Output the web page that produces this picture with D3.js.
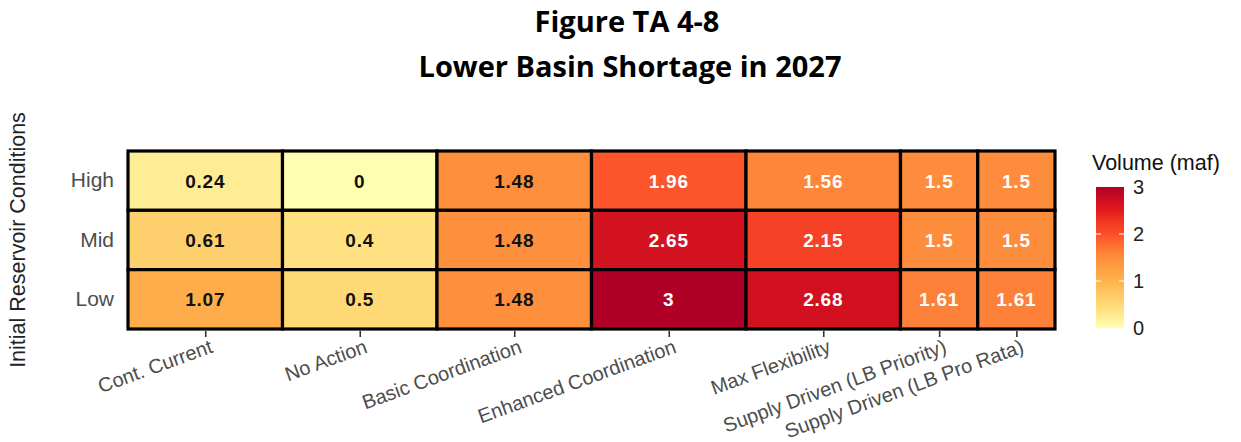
<!DOCTYPE html>
<html>
<head>
<meta charset="utf-8">
<script src="https://cdn.jsdelivr.net/npm/d3@7"></script>
<style>
  body { margin: 0; background: #fff; }
  svg { display: block; }
</style>
</head>
<body>
<div id="chart"></div>
<script>
let width = 1241
let height = 442

const scenarios = ['Cont. Current', 'No Action', 'Basic Coordination', 'Enhanced Coordination',
                   'Max Flexibility', 'Supply Driven (LB Priority)', 'Supply Driven (LB Pro Rata)']
// tile width per scenario (ggplot width aesthetic)
const tileWidths = [1, 1, 1, 1, 1, 0.5, 0.5]
const conditions = ['High', 'Mid', 'Low']
const highValues = [0.24, 0, 1.48, 1.96, 1.56, 1.5, 1.5]
const midValues = [0.61, 0.4, 1.48, 2.65, 2.15, 1.5, 1.5]
const lowValues = [1.07, 0.5, 1.48, 3, 2.68, 1.61, 1.61]
const legendTicks = [0, 1, 2, 3]

const palette = ['#ffffb2', '#fed976', '#feb24c', '#fd8d3c', '#fc4e2a', '#e31a1c', '#b10026']

let starts = []
let acc = 0
tileWidths.forEach(w => { starts.push(acc); acc += w })

let cells = []
;[highValues, midValues, lowValues].forEach((vals, r) => {
    vals.forEach((v, i) => {
        cells.push({ cond: conditions[r], col: i, value: v })
    })
})

let svg = d3.select('#chart')
            .append('svg')
            .attr('width', width)
            .attr('height', height)

let xScale = d3.scaleLinear()
            .domain([0, acc])
            .range([128, 1055])

let yScale = d3.scaleBand()
            .domain(conditions)
            .range([151, 329])

let color = d3.scaleLinear()
            .domain(palette.map((c, i) => i * 3 / (palette.length - 1)))
            .range(palette)
            .interpolate(d3.interpolateLab)
            .clamp(true)

// titles
svg.append('text')
    .attr('x', 627)
    .attr('y', 32)
    .attr('text-anchor', 'middle')
    .style('font-family', '"Open Sans", "Noto Sans", sans-serif')
    .style('font-weight', 'bold')
    .style('font-size', '29px')
    .text('Figure TA 4-8')

svg.append('text')
    .attr('x', 630)
    .attr('y', 77)
    .attr('text-anchor', 'middle')
    .style('font-family', '"Open Sans", "Noto Sans", sans-serif')
    .style('font-weight', 'bold')
    .style('font-size', '29px')
    .text('Lower Basin Shortage in 2027')

// tiles
svg.append('g')
    .selectAll('rect')
    .data(cells)
    .enter()
    .append('rect')
    .attr('x', d => xScale(starts[d.col]))
    .attr('y', d => yScale(d.cond))
    .attr('width', d => xScale(starts[d.col] + tileWidths[d.col]) - xScale(starts[d.col]))
    .attr('height', yScale.bandwidth())
    .attr('fill', d => color(d.value))
    .attr('stroke', '#000')
    .attr('stroke-width', 3.2)

svg.append('g')
    .selectAll('text')
    .data(cells)
    .enter()
    .append('text')
    .attr('x', d => xScale(starts[d.col] + tileWidths[d.col] / 2))
    .attr('y', d => yScale(d.cond) + yScale.bandwidth() / 2)
    .attr('dy', '0.36em')
    .attr('text-anchor', 'middle')
    .style('font-family', '"Liberation Sans", Arial, sans-serif')
    .style('font-weight', 'bold')
    .style('font-size', '19px')
    .style('letter-spacing', '0.8px')
    .attr('fill', d => d.value >= 1.5 ? '#fff' : '#111')
    .text(d => d.value)

// x axis
let xAxis = svg.append('g')
    .attr('transform', 'translate(0,331)')
    .call(d3.axisBottom(xScale)
        .tickValues(scenarios.map((s, i) => starts[i] + tileWidths[i] / 2))
        .tickFormat((d, i) => scenarios[i])
        .tickSize(6)
        .tickSizeOuter(0))

xAxis.select('.domain').remove()
xAxis.selectAll('line').attr('stroke', '#333').attr('stroke-width', 1.6)
xAxis.selectAll('text')
    .attr('y', 0)
    .attr('x', 0)
    .attr('dy', '0.75em')
    .attr('transform', 'translate(3,7) rotate(-20)')
    .attr('text-anchor', 'end')
    .attr('fill', '#4d4d4d')
    .style('font-family', '"Liberation Sans", Arial, sans-serif')
    .style('font-size', '20px')

// y axis labels
let yAxis = svg.append('g')
    .attr('transform', 'translate(128,0)')
    .call(d3.axisLeft(yScale).tickSize(0).tickPadding(14))

yAxis.select('.domain').remove()
yAxis.selectAll('text')
    .attr('fill', '#4d4d4d')
    .style('font-family', '"Liberation Sans", Arial, sans-serif')
    .style('font-size', '21px')

svg.append('text')
    .attr('transform', 'translate(25,240) rotate(-90)')
    .attr('text-anchor', 'middle')
    .attr('fill', '#222')
    .style('font-family', '"Liberation Sans", Arial, sans-serif')
    .style('font-size', '21.5px')
    .text('Initial Reservoir Conditions')

// legend
let legendScale = d3.scaleLinear()
            .domain([0, 3])
            .range([328, 187])

let defs = svg.append('defs')
let grad = defs.append('linearGradient')
            .attr('id', 'legend-grad')
            .attr('x1', 0).attr('y1', 1)
            .attr('x2', 0).attr('y2', 0)

d3.range(0, 3.01, 0.1).forEach(v => {
    grad.append('stop')
        .attr('offset', (v / 3 * 100) + '%')
        .attr('stop-color', color(v))
})

let legend = svg.append('g')

legend.append('text')
    .attr('x', 1092)
    .attr('y', 170)
    .attr('fill', '#111')
    .style('font-family', '"Liberation Sans", Arial, sans-serif')
    .style('font-size', '21.5px')
    .text('Volume (maf)')

legend.append('rect')
    .attr('x', 1096)
    .attr('y', legendScale(3))
    .attr('width', 28)
    .attr('height', legendScale(0) - legendScale(3))
    .attr('fill', 'url(#legend-grad)')

legend.selectAll('.tickl')
    .data(legendTicks.slice(1, 3))
    .enter()
    .append('g')
    .each(function(d) {
        let g = d3.select(this)
        g.append('line')
            .attr('x1', 1096).attr('x2', 1101)
            .attr('y1', legendScale(d)).attr('y2', legendScale(d))
            .attr('stroke', '#fff').attr('stroke-width', 1)
        g.append('line')
            .attr('x1', 1119).attr('x2', 1124)
            .attr('y1', legendScale(d)).attr('y2', legendScale(d))
            .attr('stroke', '#fff').attr('stroke-width', 1)
    })

legend.selectAll('.lbl')
    .data(legendTicks)
    .enter()
    .append('text')
    .attr('x', 1133)
    .attr('y', d => legendScale(d))
    .attr('dy', '0.36em')
    .attr('fill', '#222')
    .style('font-family', '"Liberation Sans", Arial, sans-serif')
    .style('font-size', '20px')
    .text(d => d)
</script>
</body>
</html>
